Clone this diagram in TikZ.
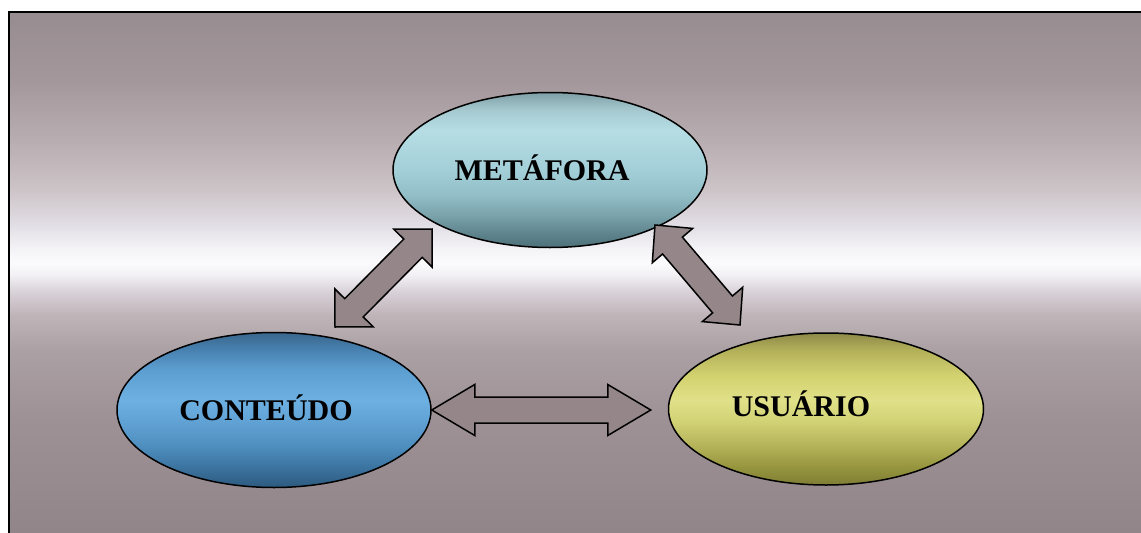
\documentclass[tikz,border=0pt]{standalone}
\usepackage{fontspec}
\setmainfont{Liberation Serif}
\usetikzlibrary{shapes.geometric,calc}

% TikZ fits a path's box to the 25bp..75bp part of a shading,
% so every colour ramp below runs between those two positions.

% backdrop: mauve-grey with a bright band across the middle
\definecolor{bgA}{HTML}{918589}
\definecolor{bgB}{HTML}{9D9196}
\definecolor{bgC}{HTML}{ABA0A4}
\definecolor{bgD}{HTML}{BFB4B8}
\definecolor{bgE}{HTML}{D8D1D8}
\definecolor{bgF}{HTML}{F2F0F4}
\definecolor{bgG}{HTML}{FBFBFC}
\definecolor{bgH}{HTML}{F3F2F6}
\definecolor{bgI}{HTML}{E2DEE5}
\definecolor{bgJ}{HTML}{CDC4C8}
\definecolor{bgK}{HTML}{B8ADB0}
\definecolor{bgL}{HTML}{A3979B}
\definecolor{bgM}{HTML}{978C90}
\pgfdeclareverticalshading{backdrop}{100bp}{%
  color(0bp)=(bgA); color(25bp)=(bgA); color(35.85bp)=(bgB); color(42.56bp)=(bgC);
  color(45.92bp)=(bgD); color(48.13bp)=(bgE); color(49.76bp)=(bgF);
  color(51.01bp)=(bgG); color(52.35bp)=(bgH); color(54.56bp)=(bgI);
  color(57.92bp)=(bgJ); color(62.72bp)=(bgK); color(68.47bp)=(bgL);
  color(75bp)=(bgM); color(100bp)=(bgM)}

% teal ellipse
\definecolor{mA}{HTML}{4E7179}
\definecolor{mB}{HTML}{5D828B}
\definecolor{mC}{HTML}{7AA3AC}
\definecolor{mD}{HTML}{92BEC7}
\definecolor{mE}{HTML}{A3CFD8}
\definecolor{mF}{HTML}{B6DDE4}
\definecolor{mG}{HTML}{A6C9D0}
\definecolor{mH}{HTML}{7F9FA6}
\pgfdeclareverticalshading{metashade}{100bp}{%
  color(0bp)=(mA); color(25bp)=(mA); color(29.15bp)=(mB); color(35.5bp)=(mC);
  color(42bp)=(mD); color(50bp)=(mE); color(62.8bp)=(mF); color(69.25bp)=(mG);
  color(75bp)=(mH); color(100bp)=(mH)}

% blue ellipse
\definecolor{cA}{HTML}{2D5A7E}
\definecolor{cB}{HTML}{3D76A3}
\definecolor{cC}{HTML}{4F8FC0}
\definecolor{cD}{HTML}{62A3D5}
\definecolor{cE}{HTML}{6DB0E2}
\definecolor{cF}{HTML}{5D9ED0}
\definecolor{cG}{HTML}{4781B0}
\definecolor{cH}{HTML}{3A678C}
\pgfdeclareverticalshading{contshade}{100bp}{%
  color(0bp)=(cA); color(25bp)=(cA); color(32.15bp)=(cB); color(38.65bp)=(cC);
  color(46.75bp)=(cD); color(53.25bp)=(cE); color(63bp)=(cF); color(69.5bp)=(cG);
  color(75bp)=(cH); color(100bp)=(cH)}

% olive ellipse
\definecolor{uA}{HTML}{7E7D35}
\definecolor{uB}{HTML}{98973F}
\definecolor{uC}{HTML}{B4B35A}
\definecolor{uD}{HTML}{D2D276}
\definecolor{uE}{HTML}{E0E088}
\definecolor{uF}{HTML}{D3D270}
\definecolor{uG}{HTML}{B3B05A}
\definecolor{uH}{HTML}{8E8A4A}
\pgfdeclareverticalshading{usushade}{100bp}{%
  color(0bp)=(uA); color(25bp)=(uA); color(31.3bp)=(uB); color(37.9bp)=(uC);
  color(46.2bp)=(uD); color(52.8bp)=(uE); color(61bp)=(uF); color(69.35bp)=(uG);
  color(75bp)=(uH); color(100bp)=(uH)}

\definecolor{arrowfill}{HTML}{948689}

\tikzset{
  bubble/.style={ellipse, draw=black, line width=1.5pt, inner sep=0pt,
    minimum width=314pt, minimum height=155pt},
  caption/.style={anchor=base, inner sep=0pt, text=black,
    font=\fontsize{30}{36}\selectfont\bfseries},
  arrowbody/.style={draw=black, line width=1.5pt, fill=arrowfill, line join=miter},
}

% block double arrow between two tips:
% #1,#2 tips, #3 shaft half-width, #4 head half-width, #5 head length
\newcommand{\blockdbl}[5]{%
  \path[arrowbody] (#1)
    -- ($(#1)!#5!(#2)!#4!90:(#2)$)
    -- ($(#1)!#5!(#2)!#3!90:(#2)$)
    -- ($(#2)!#5!(#1)!#3!-90:(#1)$)
    -- ($(#2)!#5!(#1)!#4!-90:(#1)$)
    -- (#2)
    -- ($(#2)!#5!(#1)!#4!90:(#1)$)
    -- ($(#2)!#5!(#1)!#3!90:(#1)$)
    -- ($(#1)!#5!(#2)!#3!-90:(#2)$)
    -- ($(#1)!#5!(#2)!#4!-90:(#2)$)
    -- cycle;}

\begin{document}
\begin{tikzpicture}[x=1pt, y=-1pt]
  \useasboundingbox (0,0) rectangle (1141,533);
  \fill[white] (0,0) rectangle (1141,533);
  \shade[shading=backdrop] (8.5,12) rectangle (1141,533);
  \draw[black, line width=2pt] (1160,12) -- (8.5,12) -- (8.5,550);

  % the three ellipses
  \node[bubble, shading=metashade] (meta) at (550,170) {};
  \node[bubble, shading=contshade] (cont) at (274,410) {};
  \node[bubble, shading=usushade, minimum width=315pt, minimum height=152pt] (usu) at (826,409) {};

  \node[caption] (metaT) at (542,180) {METÁFORA};
  \node[caption] (contT) at (266,420) {CONTEÚDO};
  \node[caption] (usuT)  at (801,416) {USUÁRIO};

  % arrow tips
  \coordinate (hL) at (cont.east);
  \coordinate (hR) at ($(usu.west |- cont.east)+(-17,0)$);
  \coordinate (lA) at (335,327);
  \coordinate (lB) at (432,229);
  \coordinate (rA) at (655,225);
  \coordinate (rB) at (740,325);

  \blockdbl{hL}{hR}{13pt}{25.5pt}{43pt}
  \blockdbl{lA}{lB}{13pt}{27pt}{27pt}
  \blockdbl{rA}{rB}{13pt}{26.5pt}{27pt}
\end{tikzpicture}
\end{document}
